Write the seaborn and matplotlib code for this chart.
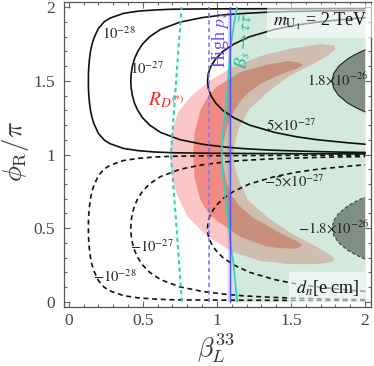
import numpy as np
import matplotlib
matplotlib.use("Agg")
import matplotlib.pyplot as plt
import seaborn as sns
from matplotlib.ticker import MultipleLocator

##### Werte #####

# d_n Konturen: beta-Werte (oben rechts -> links -> unten rechts)
b28 = [2.0, 1.6, 1.2, 0.9, 0.7, 0.58, 0.47, 0.37, 0.28, 0.24, 0.2, 0.17, 0.1575, 0.147, 0.1403, 0.136, 0.1333,
       0.133, 0.1333, 0.136, 0.1403, 0.147, 0.1575, 0.17, 0.2, 0.24, 0.28, 0.37, 0.47, 0.58, 0.7, 0.9, 1.2, 1.6, 2.0]
p28 = [1.992, 1.991, 1.990, 1.989, 1.987, 1.982, 1.974, 1.959, 1.927, 1.902, 1.856, 1.79, 1.75, 1.70, 1.65, 1.60, 1.55,
       1.50, 1.45, 1.40, 1.35, 1.30, 1.25, 1.21, 1.144, 1.098, 1.073, 1.041, 1.026, 1.017, 1.012, 1.009, 1.007, 1.005, 1.004]
n28 = [0.008, 0.009, 0.010, 0.011, 0.013, 0.018, 0.026, 0.041, 0.073, 0.098, 0.144, 0.21, 0.25, 0.30, 0.35, 0.40, 0.45,
       0.50, 0.55, 0.60, 0.65, 0.70, 0.75, 0.79, 0.856, 0.902, 0.927, 0.959, 0.974, 0.983, 0.988, 0.991, 0.993, 0.995, 0.996]

b27 = [2.0, 1.85, 1.67, 1.5, 1.36, 1.18, 1.06, 0.9, 0.75, 0.62, 0.546, 0.498, 0.466, 0.4437, 0.43, 0.4217,
       0.419, 0.4217, 0.43, 0.4437, 0.466, 0.498, 0.546, 0.62, 0.75, 0.9, 1.06, 1.18, 1.36, 1.5, 1.67, 1.85, 2.0]
p27 = [1.978, 1.977, 1.975, 1.972, 1.968, 1.958, 1.950, 1.930, 1.899, 1.85, 1.80, 1.75, 1.70, 1.65, 1.60, 1.55,
       1.50, 1.45, 1.40, 1.35, 1.30, 1.25, 1.20, 1.15, 1.101, 1.070, 1.050, 1.040, 1.030, 1.025, 1.020, 1.016, 1.014]
n27 = [0.014, 0.016, 0.020, 0.025, 0.030, 0.040, 0.050, 0.070, 0.101, 0.15, 0.20, 0.25, 0.30, 0.35, 0.40, 0.45,
       0.50, 0.55, 0.60, 0.65, 0.70, 0.75, 0.80, 0.85, 0.899, 0.930, 0.950, 0.960, 0.970, 0.975, 0.980, 0.984, 0.986]

b5 = [2.0, 1.88, 1.68, 1.54, 1.39, 1.22, 1.114, 1.04, 0.992, 0.96, 0.942, 0.937, 0.942, 0.96, 0.992, 1.04, 1.114,
      1.22, 1.39, 1.54, 1.68, 1.88, 2.0]
p5 = [1.930, 1.92, 1.90, 1.88, 1.85, 1.80, 1.75, 1.70, 1.65, 1.60, 1.55, 1.50, 1.45, 1.40, 1.35, 1.30, 1.25,
      1.20, 1.15, 1.12, 1.10, 1.08, 1.070]
n5 = [0.070, 0.08, 0.10, 0.12, 0.15, 0.20, 0.25, 0.30, 0.35, 0.40, 0.45, 0.50, 0.55, 0.60, 0.65, 0.70, 0.75,
      0.80, 0.85, 0.88, 0.90, 0.92, 0.930]

b18 = [2.0, 1.976, 1.925, 1.883, 1.822, 1.788, 1.777, 1.788, 1.822, 1.883, 1.925, 1.976, 2.0]
p18 = [1.71, 1.70, 1.675, 1.65, 1.60, 1.55, 1.50, 1.45, 1.40, 1.35, 1.325, 1.30, 1.29]
n18 = [0.29, 0.30, 0.325, 0.35, 0.40, 0.45, 0.50, 0.55, 0.60, 0.65, 0.675, 0.70, 0.71]

# R_D(*) Bereiche (2 sigma und 1 sigma)
rd2_beta = [0.685, 0.69, 0.70, 0.74, 0.83, 0.95, 1.10, 1.30, 1.50, 1.70, 1.79, 1.80,
            1.76, 1.65, 1.50, 1.35, 1.22, 1.15, 1.12, 1.115,
            1.12, 1.15, 1.21, 1.34, 1.50, 1.66, 1.77, 1.795,
            1.78, 1.68, 1.50, 1.30, 1.10, 0.93, 0.80, 0.73, 0.70, 0.69]
rd2_phi = [1.00, 1.10, 1.17, 1.29, 1.40, 1.50, 1.59, 1.67, 1.72, 1.75, 1.74, 1.715,
           1.68, 1.615, 1.54, 1.43, 1.31, 1.18, 1.08, 1.00,
           0.92, 0.82, 0.69, 0.575, 0.465, 0.38, 0.315, 0.29,
           0.27, 0.255, 0.255, 0.275, 0.34, 0.45, 0.58, 0.73, 0.83, 0.90]
rd1_beta = [0.84, 0.85, 0.889, 0.95, 1.0, 1.158, 1.338, 1.48, 1.56, 1.58,
            1.52, 1.473, 1.40, 1.293, 1.20, 1.158, 1.10, 1.069, 1.045, 1.035,
            1.045, 1.069, 1.10, 1.158, 1.25, 1.315, 1.40, 1.473, 1.54, 1.58,
            1.55, 1.517, 1.42, 1.338, 1.158, 1.0, 0.95, 0.889, 0.85]
rd1_phi = [1.0, 1.15, 1.30, 1.41, 1.46, 1.56, 1.61, 1.635, 1.625, 1.605,
           1.575, 1.56, 1.53, 1.48, 1.41, 1.36, 1.27, 1.19, 1.09, 1.0,
           0.91, 0.805, 0.72, 0.645, 0.565, 0.533, 0.48, 0.442, 0.41, 0.385,
           0.365, 0.36, 0.365, 0.374, 0.44, 0.55, 0.59, 0.69, 0.84]

# B_s -> tau tau Grenze (durchgezogen) und gestrichelt
bs_phi = [0.0, 0.12, 0.26, 0.37, 0.49, 0.64, 0.8, 0.9, 1.0, 1.1, 1.2, 1.36, 1.5, 1.71, 1.85, 2.0]
bs_beta = [1.138, 1.125, 1.112, 1.095, 1.082, 1.063, 1.047, 1.036, 1.032, 1.036, 1.045, 1.064, 1.075, 1.09, 1.11, 1.135]
bsd_phi = [0.0, 0.5, 1.0, 1.5, 2.0]
bsd_beta = [0.764, 0.728, 0.69, 0.725, 0.762]

# High pT Grenzen
hp_dash = 0.945
hp_line = 1.09
hp_left = 1.07

##### Plot #####
sns.set_theme(style="ticks")
plt.rcParams['font.family'] = ['Liberation Serif', 'DejaVu Serif']
plt.rcParams['mathtext.fontset'] = 'stix'

fig = plt.figure(figsize=(3.74, 3.66), dpi=100)
ax = fig.add_axes([0.1698, 0.1612, 0.8222, 0.8333])

# Flaechen
ax.fill(rd2_beta, rd2_phi, color="#fbc6c6", lw=0, zorder=1)
ax.fill(rd1_beta, rd1_phi, color="#f08a84", lw=0, zorder=2)
ax.fill_betweenx(bs_phi, hp_left, np.maximum(bs_beta, hp_line), color=(0.43, 0.43, 1.0), alpha=0.25, lw=0, zorder=3)
ax.fill_betweenx(bs_phi, bs_beta, 2.0, color=(60/255, 160/255, 100/255), alpha=0.226, lw=0, zorder=4)
ax.fill(b18, p18, color="#7f8f86", lw=0, zorder=5)
ax.fill(b18, n18, color="#7f8f86", lw=0, zorder=5)


def line(b, p, **kw):
    sns.lineplot(x=b, y=p, sort=False, estimator=None, ax=ax, legend=False, **kw)


dash = (0, (3, 2.2))
for b, p, n in [(b28, p28, n28), (b27, p27, n27), (b5, p5, n5)]:
    line(b, p, color="#111111", lw=1.2, zorder=8)
    line(b, n, color="#111111", lw=1.2, linestyle=dash, zorder=8)
line(b18, p18, color="#222222", lw=0.8, zorder=8)
line(b18, n18, color="#444444", lw=0.8, linestyle=(0, (3, 2)), zorder=8)

# B_s und High pT Linien
line(bs_beta, bs_phi, color="#2bd6b4", lw=1.2, zorder=9)
line(bsd_beta, bsd_phi, color="#2bd6b4", lw=1.5, linestyle=(0, (2, 1.6)), zorder=9)
ax.axvline(hp_line, ymin=0.0175, ymax=0.9825, color="#5050f0", lw=1.0, zorder=9)
ax.axvline(hp_dash, ymin=0.0175, ymax=0.9825, color="#7a7af5", lw=1.2, linestyle=(0, (2.5, 2)), zorder=9)

# Beschriftungen der Konturen
lab = dict(fontsize=10.5, color="#222222", ha="center", va="center", zorder=12)
ax.text(0.34, 1.823, r"$10^{-28}$", **lab)
ax.text(0.53, 1.586, r"$10^{-27}$", **lab)
ax.text(1.50, 1.20, r"$5{\times}10^{-27}$", **lab)
ax.text(1.815, 1.506, r"$1.8{\times}10^{-26}$", **lab)
ax.text(0.31, 0.17, r"$-10^{-28}$", **lab)
ax.text(0.56, 0.374, r"$-10^{-27}$", **lab)
ax.text(1.52, 0.815, r"$-5{\times}10^{-27}$", **lab)
ax.text(1.79, 0.499, r"$-1.8{\times}10^{-26}$", **lab)

ax.text(0.655, 1.37, r"$R_{D^{(*)}}$", fontsize=14, color="#ff2222", ha="center", va="center", zorder=12)
ax.text(1.024, 1.79, r"High $p_T$", fontsize=13, color="#6a4cf0", rotation=90, ha="center", va="center", zorder=12)
ax.text(1.19, 1.77, r"$B_s\to\tau\bar{\tau}$", fontsize=13, color="#22c29e", rotation=84,
        ha="center", va="center", zorder=12)

box = dict(boxstyle="square,pad=0.35", fc="white", ec="none", alpha=0.6)
ax.text(1.70, 1.907, r"$m_{\mathrm{U}_1}$ = 2 TeV", fontsize=13, color="#111111", ha="center", va="center",
        bbox=box, zorder=13)
ax.text(1.745, 0.093, r"$d_n$[e cm]", fontsize=13, color="#111111", ha="center", va="center",
        bbox=box, zorder=13)

# Achsen
ax.set_xlim(-0.035, 2.04)
ax.set_ylim(-0.036, 2.036)
ax.set_xticks([0, 0.5, 1, 1.5, 2])
ax.set_xticklabels(["0", "0.5", "1", "1.5", "2"])
ax.set_yticks([0, 0.5, 1, 1.5, 2])
ax.set_yticklabels(["0", "0.5", "1", "1.5", "2"])
ax.xaxis.set_minor_locator(MultipleLocator(0.1))
ax.yaxis.set_minor_locator(MultipleLocator(0.1))
ax.tick_params(which="both", direction="in", top=True, right=True, color="#666666",
               labelcolor="#444444", labelsize=12.5, width=0.8)
ax.tick_params(which="major", length=4)
ax.tick_params(which="minor", length=2.5)
ax.tick_params(axis="y", pad=6)
ax.tick_params(axis="x", pad=4)
for s in ax.spines.values():
    s.set_color("#555555")
    s.set_linewidth(0.9)

fig.text(0.578, 0.048, r"$\beta_L^{33}$", fontsize=19, ha="center", va="center", color="#333333",
         math_fontfamily="cm")
fig.text(0.042, 0.587, r"$\phi_\mathrm{R}/\pi$", fontsize=19, rotation=90, ha="center", va="center",
         color="#333333", math_fontfamily="cm")

plt.savefig("out.png", dpi=100)
